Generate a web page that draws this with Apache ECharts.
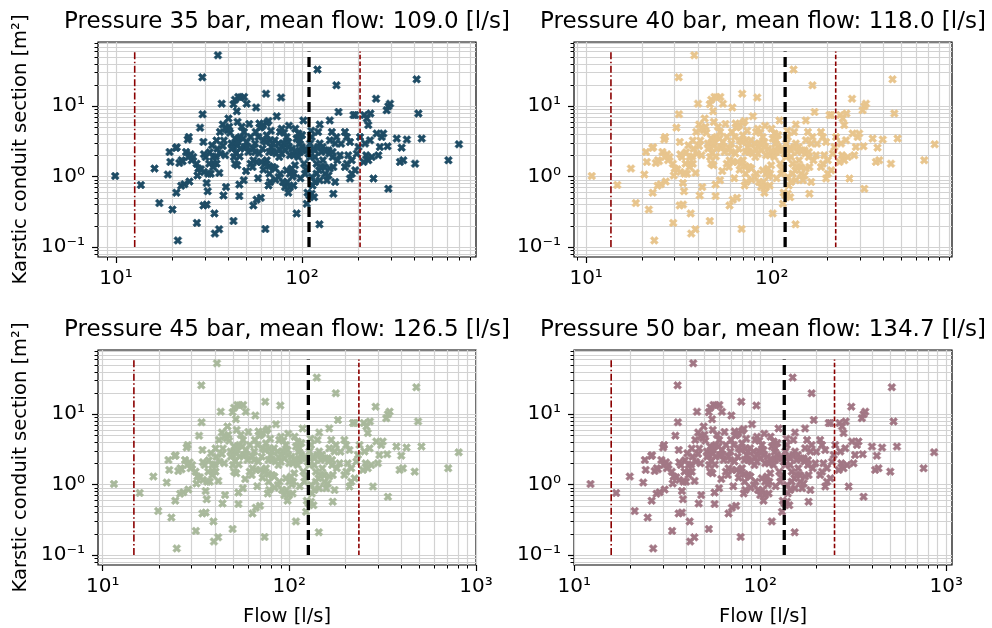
<!DOCTYPE html>
<html><head><meta charset="utf-8">
<script src="https://cdn.jsdelivr.net/npm/echarts@6/dist/echarts.min.js"></script>
<style>html,body{margin:0;padding:0;background:#fff}#c{width:992px;height:628px}</style>
</head><body><div id="c"></div>
<script>
// Flow at 35 bar [l/s]
const flow35 = [
9.9,13.6,16.1,17.1,19.0,19.4,19.6,20.1,21.1,21.5,
21.0,21.2,21.9,22.8,22.4,23.3,23.8,24.3,24.6,25.2,
25.5,24.8,26.0,27.2,27.4,28.3,29.1,29.2,29.5,28.6,
29.5,29.7,30.7,30.7,31.1,32.3,32.8,31.9,33.8,34.0,
35.8,35.3,33.6,34.4,34.7,35.9,36.5,37.0,37.5,37.8,
39.0,37.5,38.6,40.2,42.8,42.8,43.6,44.6,45.4,46.6,
48.8,50.4,46.0,46.0,48.6,40.6,41.0,41.8,42.8,43.6,
44.1,44.8,46.2,47.4,48.2,49.1,50.4,51.4,45.4,44.8,
43.6,46.6,54.7,57.0,60.0,56.6,59.0,59.5,60.5,61.8,
64.6,66.0,64.0,63.5,67.3,66.0,66.8,64.6,63.3,60.3,
57.0,54.7,52.9,54.7,55.9,58.3,62.1,64.6,67.3,68.5,
69.9,71.4,73.1,77.1,77.7,76.1,74.6,75.5,77.7,79.4,
81.0,82.6,84.3,86.0,83.3,84.3,86.0,88.9,90.5,89.9,
91.6,93.5,93.5,95.5,97.5,99.6,97.5,95.5,101.6,102.5,
103.7,106,107,109.5,112.6,116,114,108.2,110.4,112.6,
115,117.3,119.6,121,124,124.5,122,124.5,127,129.5,
132,136,138.5,141,144.6,141,146,147.3,150.6,147.3,
153,157,150.6,153,160,170,170,174,177,181,
185,181,189,193,197,201,193,185,205,214,
218,216,223,227,232,237,227,233,242,250,
252,257,262,268,273,285,291,297,288,291,
323,343,336,350,366,405,413,422,440,612,697,
33.3,35.0,38.0,39.8,41.9,43.0,45.0,46.6,48.7,50.8,
52.9,54.2,56.3,58.8,61.3,63.8,66.6,69.6,72.5,75.4,
78.5,81.6,84.9,88.3,92.4,96.8,100.8,105,110.4,117.3,
122,129,134.5,140,146,155,162,174,221,86,
88,82.6,81,78.8,76.3,74.8,71.7,69.6,66.8,119.6,
123.5,127,133,138.5,141,124.5,117.3,112.6,55.9,33.3,
31.3,30.3,27.1,24.5,22.5,27.7,29.7,31.7,36.2,38.7,
34.7,50,58,62,72,90,98,105,68,80,
92,100,112,45,52,85
];
// Karstic conduit section [m²] (same points in every panel)
const section = [
1.02,0.76,1.30,0.42,1.07,2.24,1.62,0.34,0.59,0.124,
2.56,2.62,1.56,1.65,0.74,0.78,2.24,3.36,3.66,2.08,
1.71,0.85,1.90,0.22,1.04,4.97,25.8,7.7,3.11,1.27,
0.39,1.16,0.40,0.81,0.62,1.10,2.79,2.22,0.30,0.155,
0.178,53,1.53,1.94,1.53,1.13,2.12,10.9,5.5,0.54,
0.71,2.73,2.01,6.7,0.234,10.7,12.4,8.5,13.6,13.3,
13.6,10.9,0.77,0.53,0.89,5.1,4.2,2.95,2.64,3.47,
2.17,1.45,1.94,5.1,3.47,2.64,3.1,2.24,3.47,2.8,
1.53,2.5,0.39,0.47,0.50,9.6,5.7,5.0,5.1,5.4,
5.8,6.2,15.1,0.18,0.84,0.75,1.40,1.71,1.53,1.62,
1.62,1.71,1.53,2.5,2.95,3.66,3.28,3.87,3.28,2.64,
2.24,3.28,7.2,13.3,4.8,4.3,2.95,2.45,2.12,2.95,
2.37,3.66,3.1,2.01,0.84,0.59,0.71,1.0,1.10,2.01,
1.45,0.30,3.47,4.1,3.28,2.64,2.24,1.90,6.3,1.53,
1.10,0.41,0.59,0.54,0.57,0.51,0.75,2.12,2.95,3.66,
2.5,1.90,1.53,33.2,0.21,5.5,4.3,2.95,2.24,1.71,
1.37,0.89,2.37,3.28,4.3,6.3,1.90,1.37,0.84,0.57,
19.9,8.3,2.95,3.66,2.01,4.3,1.37,3.66,2.01,3.1,
1.10,0.94,7.5,7.5,2.12,2.64,1.23,1.71,3.66,1.62,
2.95,7.5,6.7,1.71,3.28,1.90,5.4,7.9,0.94,12.8,
4.1,2.01,2.64,3.66,4.1,8.8,10.0,10.9,2.7,0.67,
3.47,2.58,1.62,1.71,3.36,1.53,24.2,7.9,3.47,1.71,2.88,
1.90,2.50,3.27,4.56,2.50,1.90,3.10,3.67,4.32,2.64,
3.67,1.37,4.32,2.13,2.50,3.10,2.24,2.94,2.13,1.90,
2.64,2.94,2.64,2.50,2.36,2.94,2.36,2.50,1.90,2.36,
2.64,2.64,2.36,2.13,2.24,1.71,2.94,1.53,2.01,1.10,
1.30,1.23,0.71,0.84,1.10,0.99,1.30,1.37,1.10,1.10,
1.23,1.37,1.10,1.04,1.30,0.89,0.84,0.99,2.24,1.37,
1.10,1.90,1.53,1.90,1.71,1.30,2.08,1.53,4.32,4.82,
3.27,1.20,0.95,1.25,0.90,0.75,0.95,1.25,4.50,4.20,
4.80,3.90,4.50,6.00,5.60,5.30
];
const pressures = [35, 40, 45, 50];
const meanFlow = [109.0, 118.0, 126.5, 134.7];
const lowFlow = [12.6, 13.6, 14.7, 15.8];
const highFlow = [205, 221, 236, 251];
const lineSpan = [0.1, 60];
const colors = ['#1e4c65', '#e8c58d', '#a9b99c', '#a27785'];
const xMajorTicks = [10, 100, 1000];
const yMajorTicks = [0.1, 1, 10];

// ---- layout ----
const FONT = 'DejaVu Sans';
const grids = [[98, 42], [574, 42], [98, 350], [574, 350]];
const GW = 378, GH = 215;
const xLims = [[8.0, 861], [8.6, 935], [9.44, 1001], [9.97, 1075]];
const yLim = [0.072, 82];
const XPATH = 'path://M1,0L2,1L3,0L4,1L3,2L4,3L3,4L2,3L1,4L0,3L1,2L0,1Z';
const SUP = {'-': '\u207B', '0': '\u2070', '1': '\u00B9', '2': '\u00B2', '3': '\u00B3', '4': '\u2074'};
function fmtPow(v) {
  const e = Math.round(Math.log10(v));
  return '10' + String(e).split('').map(c => SUP[c]).join('');
}
function minorVals(lo, hi) {
  const out = [];
  for (let e = -3; e <= 4; e++) for (let m = 2; m <= 9; m++) {
    const v = +(m * Math.pow(10, e)).toPrecision(3);
    if (v > lo && v < hi) out.push(v);
  }
  return out;
}
function inRange(vals, lo, hi) { return vals.filter(v => v >= lo && v <= hi); }

const grid = [], xAxis = [], yAxis = [], series = [], graphic = [];
for (let i = 0; i < 4; i++) {
  const [L, T] = grids[i];
  const xl = xLims[i];
  grid.push({left: L, top: T, width: GW, height: GH, show: true, borderColor: '#000', borderWidth: 1.2,
    backgroundColor: 'transparent', containLabel: false, outerBoundsMode: 'none'});
  const xMaj = inRange(xMajorTicks, xl[0], xl[1]);
  const xMin = minorVals(xl[0], xl[1]);
  const yMaj = inRange(yMajorTicks, yLim[0], yLim[1]);
  const yMin = minorVals(yLim[0], yLim[1]);
  xAxis.push({type: 'log', gridIndex: i, min: xl[0], max: xl[1], position: 'bottom',
    axisLine: {show: false},
    axisTick: {show: true, customValues: xMaj, length: 6, lineStyle: {color: '#000', width: 1.2}},
    axisLabel: {show: true, customValues: xMaj, formatter: fmtPow, margin: 12, color: '#000', fontSize: 20, fontFamily: FONT},
    splitLine: {show: false}, minorTick: {show: false}, minorSplitLine: {show: false}});
  xAxis.push({type: 'log', gridIndex: i, min: xl[0], max: xl[1], position: 'bottom',
    axisLine: {show: false},
    axisTick: {show: true, customValues: xMin, length: 3.5, lineStyle: {color: '#000', width: 1}},
    axisLabel: {show: false}, splitLine: {show: false}});
  yAxis.push({type: 'log', gridIndex: i, min: yLim[0], max: yLim[1], position: 'left',
    axisLine: {show: false},
    axisTick: {show: true, customValues: yMaj, length: 6, lineStyle: {color: '#000', width: 1.2}},
    axisLabel: {show: true, customValues: yMaj, formatter: fmtPow, margin: 13, color: '#000', fontSize: 20, fontFamily: FONT},
    splitLine: {show: false}, minorTick: {show: false}, minorSplitLine: {show: false}});
  yAxis.push({type: 'log', gridIndex: i, min: yLim[0], max: yLim[1], position: 'left',
    axisLine: {show: false},
    axisTick: {show: true, customValues: yMin, length: 3.5, lineStyle: {color: '#000', width: 1}},
    axisLabel: {show: false}, splitLine: {show: false}});

  const xi = 2 * i, yi = 2 * i;
  const gridLineData = [...xMaj, ...xMin].map(v => ({xAxis: v})).concat([...yMaj, ...yMin].map(v => ({yAxis: v})));
  series.push({type: 'line', xAxisIndex: xi, yAxisIndex: yi, data: [], z: 1, silent: true,
    markLine: {silent: true, z: 1, symbol: ['none', 'none'], animation: false, label: {show: false},
      emphasis: {disabled: true}, lineStyle: {color: '#d2d2d2', width: 1.2, type: 'solid'}, data: gridLineData}});

  const scale = meanFlow[i] / meanFlow[0];
  series.push({type: 'scatter', xAxisIndex: xi, yAxisIndex: yi, z: 3, symbol: XPATH, symbolSize: 8,
    itemStyle: {color: colors[i], borderColor: colors[i], borderWidth: 0.6, opacity: 1},
    data: flow35.map((f, j) => [f * scale, section[j]])});

  const vline = (x, style) => ({type: 'line', xAxisIndex: xi, yAxisIndex: yi, z: 4, symbol: 'none', silent: true,
    data: [[x, lineSpan[0]], [x, lineSpan[1]]], lineStyle: style});
  series.push(vline(lowFlow[i], {color: '#8b0000', width: 1.6, type: [7, 2.4, 1.6, 2.4]}));
  series.push(vline(meanFlow[i], {color: '#000', width: 3.3, type: [10, 5]}));
  series.push(vline(highFlow[i], {color: '#8b0000', width: 1.6, type: [4.5, 2.2]}));

  graphic.push({type: 'text', x: L + GW / 2, y: T - 20, silent: true,
    style: {text: 'Pressure ' + pressures[i] + ' bar, mean flow: ' + meanFlow[i].toFixed(1) + ' [l/s]',
      fontSize: 23, fontFamily: FONT, fill: '#000', align: 'center', verticalAlign: 'middle'}});
  if (i % 2 === 0) {
    graphic.push({type: 'text', x: 21, y: T + GH / 2, rotation: Math.PI / 2, silent: true,
      style: {text: 'Karstic conduit section [m\u00B2]', fontSize: 19.5, fontFamily: FONT, fill: '#000',
        align: 'center', verticalAlign: 'middle'}});
  }
  if (i >= 2) {
    graphic.push({type: 'text', x: L + GW / 2, y: 617, silent: true,
      style: {text: 'Flow [l/s]', fontSize: 19.5, fontFamily: FONT, fill: '#000', align: 'center', verticalAlign: 'middle'}});
  }
}

const chart = echarts.init(document.getElementById('c'), null, {renderer: 'canvas'});
chart.setOption({animation: false, backgroundColor: '#fff', grid, xAxis, yAxis, series, graphic});
</script></body></html>
